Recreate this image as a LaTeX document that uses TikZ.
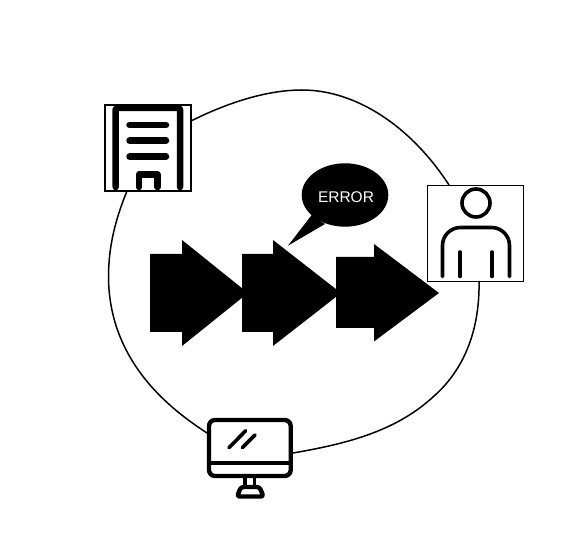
\documentclass[tikz,border=0pt]{standalone}
\usepackage{fontspec}
\usetikzlibrary{shapes.geometric}
\setmainfont{Liberation Sans}
\tikzset{
  iconbox/.style={draw=black,fill=white,line width=1.1pt,minimum width=#1,minimum height=#1,inner sep=0pt,outer sep=0pt},
  link/.style={draw=black,line width=1.5pt},
  flow/.style={fill=black,draw=none},
  thick icon/.style={draw=black,line width=6.5pt,line cap=round,line join=round},
  person icon/.style={draw=black,line width=3.6pt,line cap=round,line join=round},
  screen icon/.style={draw=black,line width=4.4pt,line cap=round,line join=round},
  glass icon/.style={draw=black,line width=3.6pt,line cap=round},
  errtext/.style={text=white,font=\fontsize{15.5pt}{18pt}\selectfont,inner sep=0pt}
}
\begin{document}
\begin{tikzpicture}[x=1pt,y=-1pt]
\useasboundingbox (0,0) rectangle (573,545);
\fill[white] (0,0) rectangle (573,545);
% icon frames
\node[iconbox=86pt] (building) at (148,148) {};
\node[iconbox=96pt] (person) at (475.5,233.5) {};
\node[draw=none,minimum width=86pt,minimum height=60pt,inner sep=0pt,outer sep=0pt] (monitor) at (250,448) {};
% outline linking the three icons
\coordinate (tA) at (302,90);
\coordinate (rA) at (433.3,396.7);
\coordinate (lA) at (108.5,277);
\draw[link] (building.east |- 0,121) .. controls (225,104) and (265,90) .. (tA)
   .. controls (355,90) and (410,125) .. (449,185);
\draw[link] (479,281) .. controls (480,330) and (464,370) .. (rA)
   .. controls (395,432) and (345,444) .. (monitor.east |- 0,453);
\draw[link] (monitor.west |- 0,433) .. controls (175,412) and (109,365) .. (lA)
   .. controls (108.5,245) and (116,218) .. (127,191);
% building icon
\draw[thick icon] (115.7,187) -- (115.7,110) .. controls (115.7,108.5) .. (118,108)
  -- (178,108) .. controls (180,108.5) .. (180,110) -- (180,187);
\foreach \yy in {125,140.7,156.7} \draw[thick icon] (129.5,\yy) -- (166,\yy);
\draw[thick icon] (139,187) -- (139,174.5) -- (157.5,174.5) -- (157.5,187);
% person icon
\draw[person icon] (476,203) circle (14);
\draw[person icon,rounded corners=18pt] (442.5,276.5) -- (442.5,227.5) -- (509.5,227.5) -- (509.5,276.5);
\draw[person icon] (460,252) -- (460,276.5);
\draw[person icon] (491.7,252) -- (491.7,276.5);
% monitor icon
\draw[screen icon,fill=white,rounded corners=6pt] (209,420) rectangle (290.7,476);
\draw[screen icon] (209,462.7) -- (290.7,462.7);
\draw[glass icon] (229,447.7) -- (245.7,430.7);
\draw[glass icon] (242.3,447.7) -- (255,435);
\draw[glass icon] (245,476) -- (245,487);
\draw[glass icon] (254.5,476) -- (254.5,487);
\draw[screen icon,rounded corners=2.5pt] (237,496.5) -- (241,487) -- (259.5,487) -- (263.5,496.5) -- cycle;
% flow arrows
\fill[flow] (150,254) -- (182,254) -- (182,240) -- (248,293) -- (182,346) -- (182,332) -- (150,332) -- cycle;
\fill[flow] (242,254) -- (273,254) -- (273,240) -- (341,293) -- (273,346) -- (273,332) -- (242,332) -- cycle;
\fill[flow] (336,257) -- (374,257) -- (374,244) -- (439,293) -- (374,341.5) -- (374,328) -- (336,328) -- cycle;
% error bubble
\fill[black] (288,245.7) -- (311.7,215) -- (325,224) -- cycle;
\node[ellipse,fill=black,minimum width=86.6pt,minimum height=63.4pt,inner sep=0pt] (bubble) at (345,195) {};
\node[errtext] (errlabel) at (346,197) {ERROR};
\end{tikzpicture}
\end{document}
